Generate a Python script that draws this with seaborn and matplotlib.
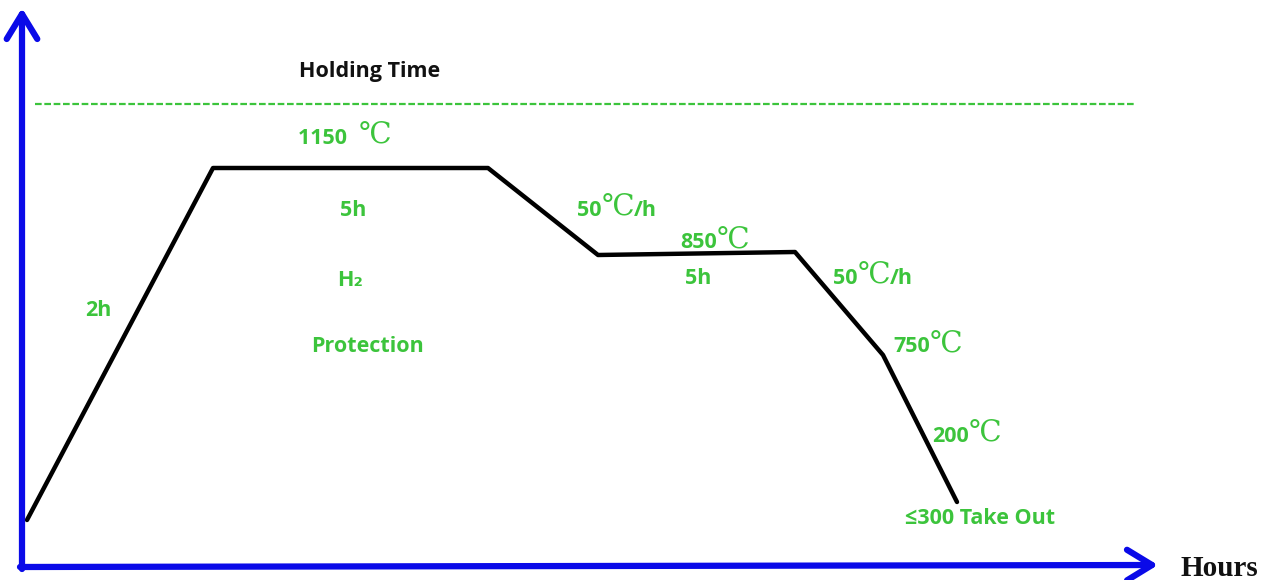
import matplotlib
matplotlib.use("Agg")
import matplotlib.pyplot as plt
import seaborn as sns
import pandas as pd

# heat treatment profile (schematic, drawing units: x -> time, y -> height from top)
profile_x = [27, 213, 488, 598, 795, 883, 957]
profile_y = [520, 168, 168, 255, 252, 355, 502]

# labels along the profile (x is the left edge of each label)
label_text = ["1150  ℃", "5h", "H₂", "Protection", "2h", "50℃/h", "850℃",
              "5h", "50℃/h", "750℃", "200℃", "≤300 Take Out"]
label_x = [298, 340, 337, 311, 85, 577, 680, 685, 833, 893, 932, 905]
label_y = [138, 210, 281, 347, 311, 210, 243, 278, 278, 347, 436, 518]

holding_line_y = 104
green = "#3cc43c"
blue = "#0a0ae8"
fs = 15.5

sns.set_style("white")
plt.rcParams["font.family"] = ["Open Sans", "Noto Sans CJK SC", "DejaVu Sans"]

fig = plt.figure(figsize=(12.74, 5.8), dpi=100)
ax = fig.add_axes([0, 0, 1, 1])
ax.set_xlim(0, 1274)
ax.set_ylim(580, 0)
ax.axis("off")

df = pd.DataFrame({"x": profile_x, "y": profile_y})
sns.lineplot(data=df, x="x", y="y", sort=False, color="black", lw=3.2, ax=ax)

# holding time reference line
ax.plot([35, 1135], [holding_line_y, holding_line_y], color=green, lw=1.6,
        dashes=(3, 1.2))
ax.text(370, 72, "Holding Time", ha="center", va="center", fontsize=fs,
        fontweight="bold", color="#111111")

# axes drawn as arrows
arrow = dict(arrowstyle="->,head_length=0.9,head_width=0.55", lw=4.5,
             color=blue, mutation_scale=20, shrinkA=0, shrinkB=0)
ax.annotate("", xy=(22, 8), xytext=(22, 569), arrowprops=arrow)
ax.annotate("", xy=(1158, 565), xytext=(20, 567), arrowprops=arrow)
ax.text(1219, 568, "Hours", ha="center", va="center", fontsize=21,
        fontweight="bold", family="Liberation Serif", color="#111111")

for t, x, y in zip(label_text, label_x, label_y):
    pre, sep, post = t.partition("℃")
    art = ax.text(x, y, pre, ha="left", va="center", fontsize=fs,
                  fontweight="bold", color=green)
    if sep:
        # the degree sign is set larger, in a serif face
        art = ax.annotate(sep, xy=(1, 0.55), xycoords=art, ha="left", va="center",
                          fontsize=21,
                          family=["Liberation Serif", "DejaVu Serif", "Noto Sans CJK SC"],
                          color=green)
        if post:
            ax.annotate(post, xy=(1, 0.45), xycoords=art, ha="left", va="center",
                        fontsize=fs, fontweight="bold", color=green)

fig.savefig("out.png", dpi=100)
